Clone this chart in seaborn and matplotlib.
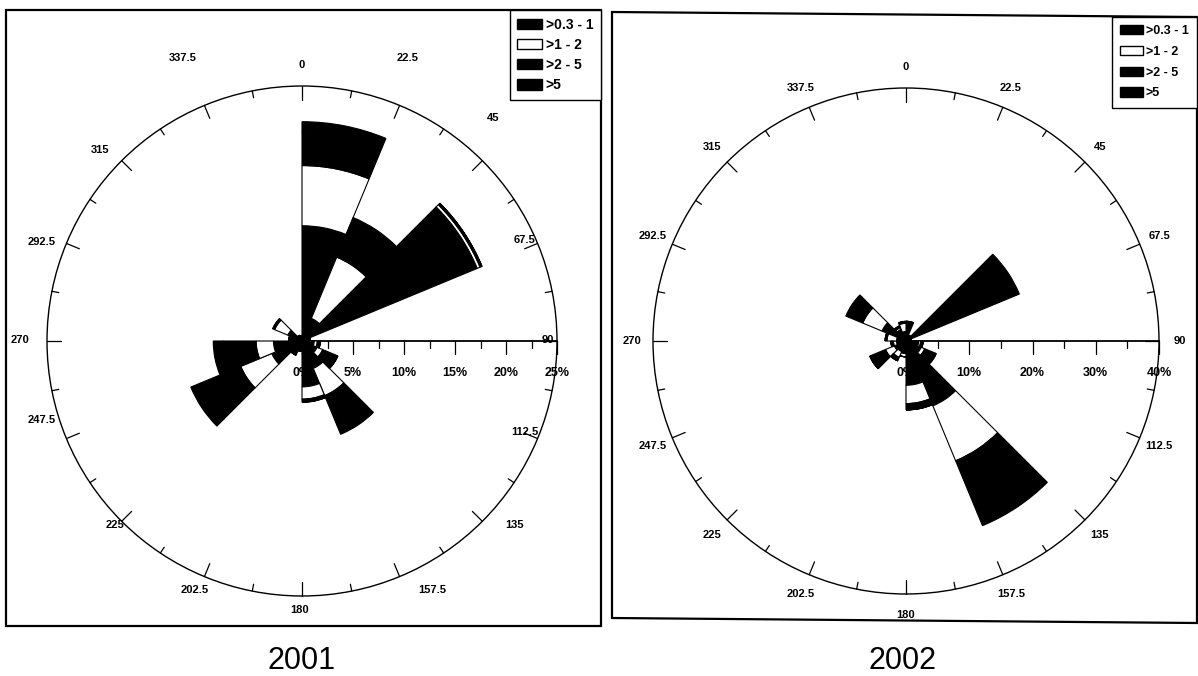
import numpy as np
import matplotlib
matplotlib.use("Agg")
import matplotlib.pyplot as plt
from matplotlib.patches import Patch, Circle, Polygon
import seaborn as sns

sns.set_theme(style="white")
plt.rcParams["font.family"] = ["Liberation Sans", "DejaVu Sans"]
plt.rcParams["text.color"] = "black"

# 16 direction sectors, each starting at the given bearing (degrees)
directions = np.arange(16) * 22.5
speed_classes = [">0.3 - 1", ">1 - 2", ">2 - 5", ">5"]
class_colors = sns.color_palette(["#000000", "#ffffff", "#000000", "#000000"])

# Frequency (%) per sector and wind-speed class, 2001
f2001_c1 = [11.3, 2.4, 18.6, 0.8, 1.2, 1.6, 2.9, 4.5, 1.0, 1.5, 3.2, 2.8, 1.3, 1.5, 0.6, 0.5]
f2001_c2 = [5.9, 6.5, 0.3, 0.0, 0.3, 0.6, 2.9, 1.2, 0.0, 0.0, 3.3, 1.7, 0.0, 1.4, 0.0, 0.0]
f2001_c3 = [3.3, 3.2, 0.2, 0.0, 0.3, 1.6, 3.2, 0.3, 0.0, 0.0, 4.3, 3.2, 0.0, 0.2, 0.0, 0.0]
f2001_c4 = [1.0, 1.0, 0.0, 0.0, 0.0, 0.0, 0.9, 0.0, 0.0, 0.0, 1.0, 1.0, 0.0, 0.0, 0.0, 0.0]

# Frequency (%) per sector and wind-speed class, 2002
f2002_c1 = [3.1, 1.0, 16.0, 0.8, 2.0, 2.6, 11.1, 7.0, 2.0, 1.8, 2.0, 1.5, 1.5, 4.1, 2.0, 1.5]
f2002_c2 = [0.0, 0.0, 0.0, 0.0, 0.3, 0.6, 9.4, 2.9, 0.5, 1.0, 1.5, 0.5, 1.5, 3.3, 0.3, 1.3]
f2002_c3 = [0.0, 0.0, 2.8, 0.0, 0.4, 1.8, 8.9, 1.0, 0.0, 0.6, 2.7, 0.4, 0.3, 2.4, 0.3, 0.3]
f2002_c4 = [0.0, 0.0, 0.6, 0.0, 0.0, 0.2, 2.2, 0.0, 0.0, 0.0, 0.0, 0.0, 0.0, 0.5, 0.0, 0.0]

years = ["2001", "2002"]

W, H = 1198, 676
fig = plt.figure(figsize=(W / 100, H / 100), dpi=100)
fig.patch.set_facecolor("white")


def fx(px):
    return px / W


def fy(py):
    return 1 - py / H


# Pixel anchors of the bearing labels on the 2001 panel
labels_2001_px = [(302, 65), (408, 58), (493, 118), (525, 240), (548, 340),
                  (525, 432), (515, 525), (432, 590), (300, 610), (195, 590),
                  (115, 525), (42, 420), (20, 340), (42, 242), (100, 150),
                  (183, 58)]


def draw_rose(stacks, cx_px, cy_px, rad_px, rmax, rmajor, rminor, label_px=None):
    rect = [fx(cx_px - rad_px), fy(cy_px + rad_px), 2 * rad_px / W, 2 * rad_px / H]
    # cartesian layer for the circle, scale and labels
    cax = fig.add_axes(rect)
    cax.set_xlim(-rmax, rmax)
    cax.set_ylim(-rmax, rmax)
    cax.set_aspect("equal")
    cax.axis("off")
    cax.set_zorder(1)
    u = rmax / rad_px  # data units per pixel

    cax.add_patch(Circle((0, 0), rmax, fill=False, ec="black", lw=1.0, clip_on=False))
    for i in range(32):
        a = np.radians(i * 11.25)
        L = (14 if i % 2 == 0 else 7) * u
        cax.plot([rmax * np.sin(a), (rmax - L) * np.sin(a)],
                 [rmax * np.cos(a), (rmax - L) * np.cos(a)],
                 color="black", lw=0.9, clip_on=False)
    for k, d in enumerate(directions):
        if label_px is not None:
            lx = (label_px[k][0] - cx_px) * u
            ly = (cy_px - label_px[k][1]) * u
        else:
            a = np.radians(d)
            R = rmax + 21 * u
            lx, ly = R * np.sin(a), R * np.cos(a)
        cax.text(lx, ly, f"{d:g}", ha="center", va="center",
                 fontsize=8, fontweight="bold", clip_on=False)

    # radial scale along the east axis
    cax.plot([0, rmax], [0, 0], color="black", lw=1.3, clip_on=False)
    for r in rminor:
        cax.plot([r, r], [0, -7 * u], color="black", lw=0.9, clip_on=False)
    for r in rmajor:
        cax.plot([r, r], [0, -13 * u], color="black", lw=0.9, clip_on=False)
        cax.text(r, -32 * u, f"{r:g}%", ha="center", va="center",
                 fontsize=9, fontweight="bold", clip_on=False)

    # stacked wind-rose bars
    ax = fig.add_axes(rect, projection="polar")
    ax.set_zorder(2)
    ax.patch.set_alpha(0)
    ax.set_theta_zero_location("N")
    ax.set_theta_direction(-1)
    ax.set_ylim(0, rmax)
    ax.grid(False)
    ax.set_xticks([])
    ax.set_yticks([])
    ax.spines["polar"].set_visible(False)
    theta = np.radians(directions)
    width = np.radians(22.5)
    bottom = np.zeros(len(directions))
    for vals, col in zip(stacks, class_colors):
        vals = np.asarray(vals)
        ax.bar(theta, vals, width=width, bottom=bottom, align="edge",
               color=col, edgecolor="black", linewidth=0.8)
        bottom = bottom + vals
    return ax


draw_rose([f2001_c1, f2001_c2, f2001_c3, f2001_c4], 302, 341, 255, 25,
          np.arange(0, 26, 5), np.arange(2.5, 25, 5), labels_2001_px)
draw_rose([f2002_c1, f2002_c2, f2002_c3, f2002_c4], 906, 341, 253, 40,
          np.arange(0, 41, 10), np.arange(5, 40, 10))

# panel frames (corner points in pixels), legends and year captions
frames = [[(6, 10), (601, 10), (601, 626), (6, 626)],
          [(612, 12), (1197, 17), (1197, 623), (612, 618)]]
legend_fonts = [10, 9]
legend_spacing = [0.45, 0.7]
legend_pad = [0.55, 0.65]
handles = [Patch(facecolor=c, edgecolor="black", linewidth=1.0) for c in class_colors]
for corners, year, xc, fs, sp, pad in zip(frames, years, [302, 903], legend_fonts,
                                          legend_spacing, legend_pad):
    fig.add_artist(Polygon([(fx(x), fy(y)) for x, y in corners], closed=True,
                           transform=fig.transFigure, fill=False,
                           ec="black", lw=1.6))
    x1, y0 = corners[1]
    leg = fig.legend(handles, speed_classes, loc="upper right",
                     bbox_to_anchor=(fx(x1), fy(y0)), bbox_transform=fig.transFigure,
                     borderaxespad=0, frameon=True, fancybox=False,
                     prop={"size": fs, "weight": "bold"}, handlelength=1.8,
                     handleheight=0.75, labelspacing=sp, borderpad=pad,
                     handletextpad=0.25)
    leg.get_frame().set_edgecolor("black")
    leg.get_frame().set_linewidth(1.0)
    leg.get_frame().set_alpha(1)
    fig.text(fx(xc), fy(661), year, ha="center", va="center", fontsize=22)

fig.savefig("out.png", dpi=100, facecolor="white")
